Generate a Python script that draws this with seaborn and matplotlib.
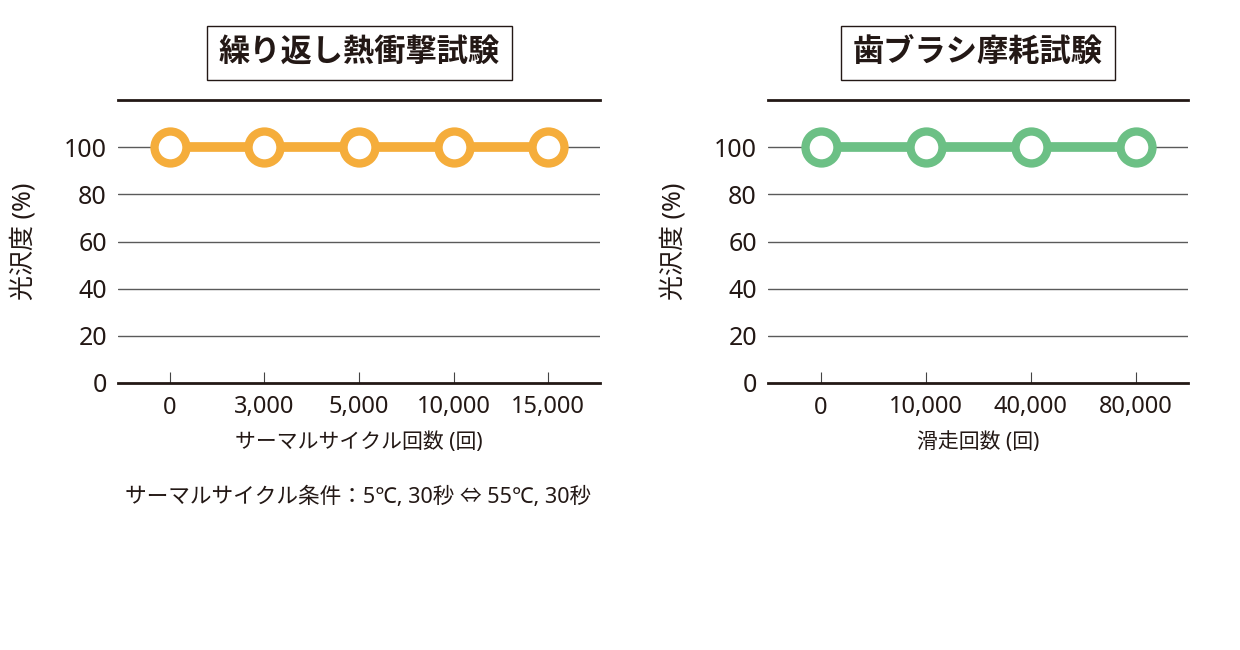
import pandas as pd
import matplotlib
matplotlib.use('Agg')
import matplotlib.pyplot as plt
import seaborn as sns

# data
thermal_cycles = ['0', '3,000', '5,000', '10,000', '15,000']
thermal_gloss = [100, 100, 100, 100, 100]
brush_strokes = ['0', '10,000', '40,000', '80,000']
brush_gloss = [100, 100, 100, 100]

sns.set_theme(style='white')
plt.rcParams['font.family'] = ['Noto Sans', 'Noto Sans CJK JP', 'DejaVu Sans']

ink = '#231815'
orange = '#F5AD3B'
green = '#6CC085'

fig = plt.figure(figsize=(12.4, 6.5), dpi=100)
ax1 = fig.add_axes([118/1240, 1-383/650, (600-118)/1240, (383-100)/650])
ax2 = fig.add_axes([768/1240, 1-383/650, (1188-768)/1240, (383-100)/650])

df1 = pd.DataFrame({'cycles': thermal_cycles, 'gloss': thermal_gloss})
df2 = pd.DataFrame({'cycles': brush_strokes, 'gloss': brush_gloss})

panels = [
    (ax1, df1, orange, '繰り返し熱衝撃試験', 'サーマルサイクル回数 (回)', 0.55),
    (ax2, df2, green, '歯ブラシ摩耗試験', '滑走回数 (回)', 0.5),
]

for ax, df, col, title, xlab, margin in panels:
    ax.set_facecolor('white')
    for y in [20, 40, 60, 80, 100]:
        ax.axhline(y, color='#5a5a5a', linewidth=1, zorder=1)
    sns.lineplot(data=df, x='cycles', y='gloss', ax=ax, sort=False,
                 color=col, linewidth=7, marker='o', markersize=23,
                 markerfacecolor='white', markeredgecolor=col,
                 markeredgewidth=6, zorder=3, clip_on=False)
    n = len(df)
    ax.set_xlim(-margin, n - 1 + margin)
    ax.set_ylim(0, 120)
    ax.set_yticks([0, 20, 40, 60, 80, 100])
    ax.tick_params(axis='y', length=0, pad=8, labelsize=18, labelcolor=ink)
    ax.tick_params(axis='x', direction='in', length=8, width=0.8, color='#444444',
                   pad=9, labelsize=17, labelcolor=ink, bottom=True)
    for s in ['left', 'right']:
        ax.spines[s].set_visible(False)
    for s in ['top', 'bottom']:
        ax.spines[s].set_visible(True)
        ax.spines[s].set_color(ink)
        ax.spines[s].set_linewidth(2)
    ax.set_xlabel(xlab, fontsize=15, color=ink, labelpad=9)
    ax.set_ylabel('光沢度 (%)', fontsize=18, color=ink, labelpad=20)
    cx = (ax.get_position().x0 + ax.get_position().x1) / 2
    fig.text(cx, 1 - 53/650, title, ha='center', va='center',
             fontsize=22.5, fontweight='bold', color=ink,
             bbox=dict(boxstyle='square,pad=0.38', facecolor='white',
                       edgecolor=ink, linewidth=1))

fig.text(125/1240, 1 - 497/650, 'サーマルサイクル条件：5℃, 30秒 ⇔ 55℃, 30秒',
         ha='left', va='center', fontsize=15.6, color=ink)

fig.savefig('out.png', dpi=100, facecolor='white')
